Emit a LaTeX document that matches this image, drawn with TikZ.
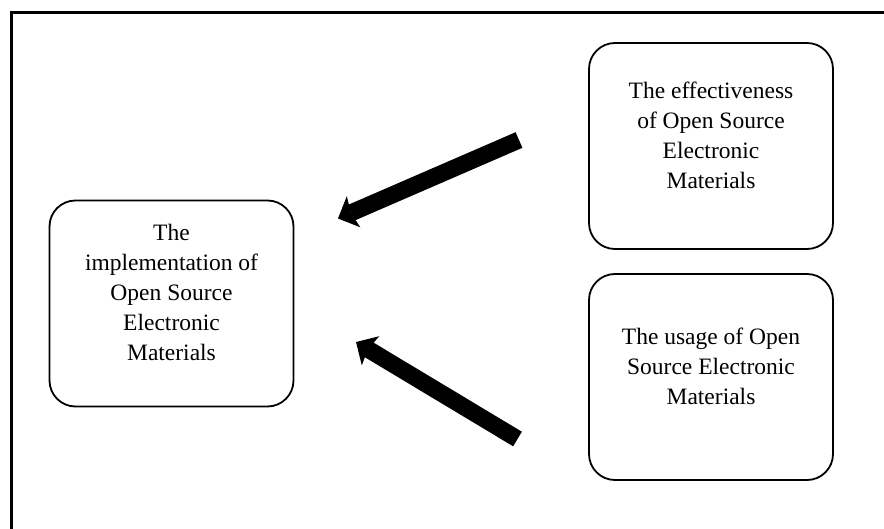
\documentclass[tikz,border=0pt]{standalone}
\usepackage{fontspec}
\setmainfont{Liberation Serif}
\usetikzlibrary{arrows.meta}
\begin{document}
\begin{tikzpicture}[x=1pt,y=-1pt,
  box/.style={draw, line width=1.8pt, rounded corners=26pt, minimum width=244pt, minimum height=206pt, inner sep=0pt},
  txt/.style={align=center, font=\fontsize{23.5}{30}\selectfont, inner sep=0pt},
  bigarrow/.style={line width=17pt, -{Stealth[length=17pt,width=34pt,inset=3pt,line width=0pt]}},
  frame/.style={draw, line width=3pt}]
  \useasboundingbox (0,0) rectangle (884,529);
  \clip (0,0) rectangle (884,529);
  \draw[frame] (11.5,12.5) rectangle (920,560);

  \node[box] (impl) at (171.5,303.5) {};
  \node[box] (eff) at (711,146) {};
  \node[box] (use) at (711,377) {};

  \node[txt] (implt) at ([yshift=11pt]impl.center) {The\\implementation of\\Open Source\\Electronic\\Materials};
  \node[txt] (efft) at ([yshift=10.5pt]eff.center) {The effectiveness\\of Open Source\\Electronic\\Materials};
  \node[txt] (uset) at ([yshift=11pt]use.center) {The usage of Open\\Source Electronic\\Materials};

  \coordinate (a1s) at (519,140);
  \coordinate (a1e) at (338,218.5);
  \coordinate (a2s) at (517.5,439);
  \coordinate (a2e) at (356,342);
  \draw[bigarrow] (a1s) -- (a1e);
  \draw[bigarrow] (a2s) -- (a2e);
\end{tikzpicture}
\end{document}
